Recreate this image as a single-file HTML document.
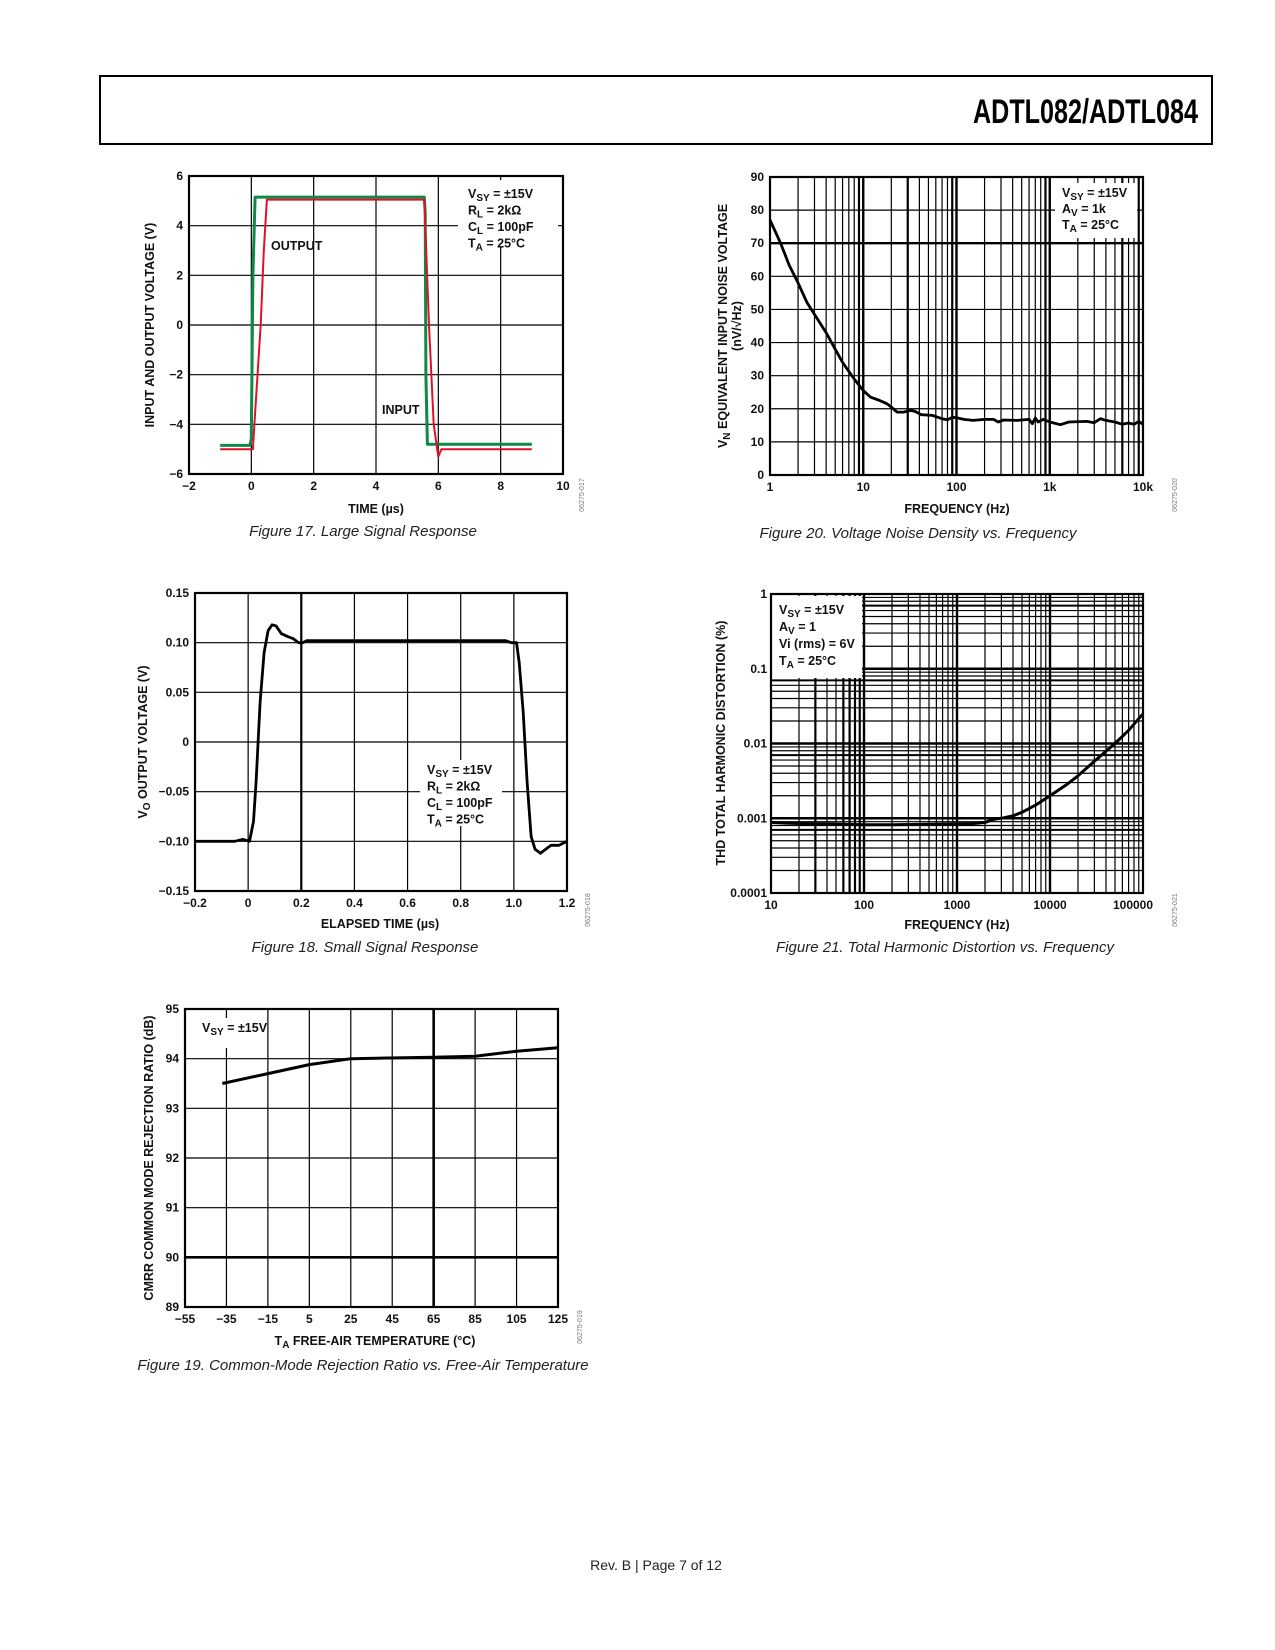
<!DOCTYPE html>
<html><head><meta charset="utf-8">
<style>
html,body{margin:0;padding:0;background:#fff;}
svg{display:block;}
text{font-family:"Liberation Sans",sans-serif;}
.t{font-size:12px;font-weight:bold;fill:#111;}
.at{font-size:12.5px;font-weight:bold;fill:#111;}
.cap{font-size:15px;font-style:italic;fill:#222;}
.lg{font-size:12.5px;font-weight:bold;fill:#111;}
.code{font-size:7px;fill:#777;}
</style></head><body>
<svg id="s" width="1275" height="1650" viewBox="0 0 1275 1650" xmlns="http://www.w3.org/2000/svg">
<rect x="0" y="0" width="1275" height="1650" fill="#fff"/>
<rect x="100" y="76" width="1112" height="68" fill="none" stroke="#000" stroke-width="2"/>
<text x="973" y="123" textLength="225" lengthAdjust="spacingAndGlyphs" style="font-family:'Liberation Sans Narrow','Liberation Sans',sans-serif;font-size:34px;font-weight:bold;">ADTL082/ADTL084</text>
<text x="656" y="1570" text-anchor="middle" style="font-size:14px;fill:#222">Rev. B | Page 7 of 12</text>
<g id="g"></g>
</svg>
<script>
var out='';
function L(x1,y1,x2,y2,w,c){out+='<line x1="'+x1+'" y1="'+y1+'" x2="'+x2+'" y2="'+y2+'" stroke="'+(c||'#000')+'" stroke-width="'+w+'"/>';}
function T(x,y,s,cls,anc,extra){out+='<text x="'+x+'" y="'+y+'" class="'+cls+'" text-anchor="'+(anc||'start')+'" '+(extra||'')+'>'+s+'</text>';}
function P(pts,w,c){out+='<polyline fill="none" stroke="'+c+'" stroke-width="'+w+'" stroke-linejoin="round" points="'+pts.map(function(p){return p[0].toFixed(1)+','+p[1].toFixed(1)}).join(' ')+'"/>';}
function R(x,y,w,h){out+='<rect x="'+x+'" y="'+y+'" width="'+w+'" height="'+h+'" fill="#fff"/>';}
function box(x0,y0,x1,y1){out+='<rect x="'+x0+'" y="'+y0+'" width="'+(x1-x0)+'" height="'+(y1-y0)+'" fill="none" stroke="#000" stroke-width="2.2"/>';}
function lin(a,b,c,d){return function(v){return c+(v-a)/(b-a)*(d-c);};}
function lg(a,b,c,d){return function(v){return c+(Math.log10(v)-Math.log10(a))/(Math.log10(b)-Math.log10(a))*(d-c);};}
var SUB=function(m,s){return m+'<tspan dy="3" font-size="10">'+s+'</tspan><tspan dy="-3"> </tspan>';};
function legend(x,y,lines,dy){for(var i=0;i<lines.length;i++)T(x,y+i*dy,lines[i],'lg');}

// Fig 17
(function(){var X=lin(-2,10,189,563),Y=lin(6,-6,176,474);
for(var v=0;v<=8;v+=2)L(X(v),176,X(v),474,1.2);
for(var v=-4;v<=4;v+=2)L(189,Y(v),563,Y(v),1.2);
R(458,180,100,66);
var g=[[-1,-4.85],[-0.05,-4.85],[0.0,-4.6],[0.05,2],[0.12,5.15],[5.55,5.15],[5.58,4.5],[5.6,-2],[5.65,-4.8],[6.2,-4.8],[9,-4.8]];
var r=[[-1,-5.0],[0.05,-5.0],[0.1,-4],[0.3,0],[0.4,3],[0.5,5.05],[5.55,5.05],[5.7,0],[5.85,-4],[6.0,-5.3],[6.1,-5.0],[9,-5.0]];
P(g.map(function(p){return[X(p[0]),Y(p[1])]}),3,'#0e8a44');
P(r.map(function(p){return[X(p[0]),Y(p[1])]}),2,'#e0102a');
box(189,176,563,474);
for(var v=-2;v<=10;v+=2)T(X(v),490,(v<0?'−':'')+Math.abs(v),'t','middle');
for(var v=-6;v<=6;v+=2)T(183,Y(v)+4,(v<0?'−':'')+Math.abs(v),'t','end');
legend(468,198,[SUB('V','SY')+'= ±15V',SUB('R','L')+'= 2kΩ',SUB('C','L')+'= 100pF',SUB('T','A')+'= 25°C'],16.5);
T(271,250,'OUTPUT','lg');T(382,414,'INPUT','lg');
T(376,513,'TIME (µs)','at','middle');
T(0,0,'INPUT AND OUTPUT VOLTAGE (V)','at','middle','transform="translate(154,325) rotate(-90)"');
T(0,0,'Figure 17. Large Signal Response','cap','middle','transform="translate(363,536)"');
T(0,0,'06275-017','code','middle','transform="translate(584,495) rotate(-90)"');
})();

// Fig 18
(function(){var X=lin(-0.2,1.2,195,567),Y=lin(0.15,-0.15,593,891);
for(var i=0;i<=6;i++){var v=-0.2+i*0.2;L(X(v),593,X(v),891,Math.abs(v-0.2)<1e-6?2.2:1.2);}
for(var i=1;i<6;i++){var v=0.15-i*0.05;L(195,Y(v),567,Y(v),1.2);}
R(420,760,82,66);
var c=[[-0.2,-0.1],[-0.05,-0.1],[-0.02,-0.098],[0.005,-0.1],[0.02,-0.08],[0.03,-0.04],[0.045,0.04],[0.06,0.09],[0.075,0.112],[0.09,0.118],[0.105,0.117],[0.125,0.109],[0.15,0.106],[0.17,0.104],[0.19,0.1],[0.205,0.1],[0.22,0.102],[0.97,0.102],[0.99,0.1],[1.01,0.1],[1.02,0.08],[1.035,0.03],[1.05,-0.04],[1.065,-0.095],[1.08,-0.108],[1.1,-0.112],[1.12,-0.108],[1.14,-0.104],[1.17,-0.104],[1.2,-0.1]];
P(c.map(function(p){return[X(p[0]),Y(p[1])]}),2.8,'#000');
box(195,593,567,891);
var xl=['−0.2','0','0.2','0.4','0.6','0.8','1.0','1.2'];
for(var i=0;i<xl.length;i++)T(X(-0.2+i*0.2),907,xl[i],'t','middle');
var yl=['0.15','0.10','0.05','0','−0.05','−0.10','−0.15'];
for(var i=0;i<yl.length;i++)T(189,Y(0.15-i*0.05)+4,yl[i],'t','end');
legend(427,774,[SUB('V','SY')+'= ±15V',SUB('R','L')+'= 2kΩ',SUB('C','L')+'= 100pF',SUB('T','A')+'= 25°C'],16.5);
T(380,928,'ELAPSED TIME (µs)','at','middle');
T(0,0,'V<tspan dy="3" font-size="10">O</tspan><tspan dy="-3"> OUTPUT VOLTAGE (V)</tspan>','at','middle','transform="translate(147,742) rotate(-90)"');
T(0,0,'Figure 18. Small Signal Response','cap','middle','transform="translate(365,952)"');
T(0,0,'06275-018','code','middle','transform="translate(590,910) rotate(-90)"');
})();

// Fig 19
(function(){var X=lin(-55,125,185,558),Y=lin(95,89,1009,1307);
for(var v=-35;v<=105;v+=20)L(X(v),1009,X(v),1307,v==65?2.6:1.2);
for(var v=90;v<=94;v++)L(185,Y(v),558,Y(v),v==90?2.6:1.2);
R(195,1018,70,30);
var c=[[-37,93.5],[-15,93.7],[5,93.88],[25,94.0],[65,94.03],[85,94.05],[105,94.15],[125,94.22]];
P(c.map(function(p){return[X(p[0]),Y(p[1])]}),3,'#000');
box(185,1009,558,1307);
for(var v=-55;v<=125;v+=20)T(X(v),1323,(v<0?'−':'')+Math.abs(v),'t','middle');
for(var v=89;v<=95;v++)T(179,Y(v)+4,v,'t','end');
legend(202,1032,[SUB('V','SY')+'= ±15V'],16);
T(375,1345,'<tspan>T</tspan><tspan dy="3" font-size="10">A</tspan><tspan dy="-3"> FREE-AIR TEMPERATURE (°C)</tspan>','at','middle');
T(0,0,'CMRR COMMON MODE REJECTION RATIO (dB)','at','middle','transform="translate(153,1158) rotate(-90)"');
T(0,0,'Figure 19. Common-Mode Rejection Ratio vs. Free-Air Temperature','cap','middle','transform="translate(363,1370)"');
T(0,0,'06275-019','code','middle','transform="translate(582,1327) rotate(-90)"');
})();

// Fig 20
(function(){var X=lg(1,10000,770,1143),Y=lin(90,0,177,475);
for(var d=1;d<10000;d*=10)for(var k=1;k<=9;k++){var f=d*k;if(f<=1)continue;var w=(k==1)?2.4:((k==9||k==3&&d==10||k==6&&d==1000)?2.2:1.2);L(X(f),177,X(f),475,w);}
for(var v=10;v<90;v+=10)L(770,Y(v),1143,Y(v),v==70?2.4:1.2);
R(1055,183,82,55);
var c=[[1,77],[1.3,70],[1.6,63.5],[2,58],[2.5,52],[3,48.5],[4,43],[5,38],[6,34],[8,29],[10,25.5],[12,23.5],[15,22.5],[18,21.5],[20,20.5],[23,19],[27,19],[32,19.5],[36,19.2],[42,18.2],[55,18],[70,17],[80,16.7],[90,17.4],[100,17.3],[120,16.8],[150,16.5],[200,16.8],[250,16.8],[280,16],[320,16.6],[450,16.5],[600,16.8],[650,15.5],[700,17.2],[750,16],[850,16.8],[1000,16],[1300,15.2],[1600,16],[2500,16.2],[3000,15.8],[3500,17],[4000,16.5],[5000,16],[6000,15.3],[7000,15.7],[8000,15.3],[9000,16.2],[10000,15.3]];
P(c.map(function(p){return[X(p[0]),Y(p[1])]}),2.8,'#000');
box(770,177,1143,475);
var xl=[[1,'1'],[10,'10'],[100,'100'],[1000,'1k'],[10000,'10k']];
xl.forEach(function(a){T(X(a[0]),491,a[1],'t','middle');});
for(var v=0;v<=90;v+=10)T(764,Y(v)+4,v,'t','end');
legend(1062,197,[SUB('V','SY')+'= ±15V',SUB('A','V')+'= 1k',SUB('T','A')+'= 25°C'],16);
T(957,513,'FREQUENCY (Hz)','at','middle');
T(0,0,'V<tspan dy="3" font-size="10">N</tspan><tspan dy="-3"> EQUIVALENT INPUT NOISE VOLTAGE</tspan>','at','middle','transform="translate(727,326) rotate(-90)"');
T(0,0,'(nV/√Hz)','at','middle','transform="translate(741,326) rotate(-90)"');
T(0,0,'Figure 20. Voltage Noise Density vs. Frequency','cap','middle','transform="translate(918,538)"');
T(0,0,'06275-020','code','middle','transform="translate(1177,495) rotate(-90)"');
})();

// Fig 21
(function(){var X=lg(10,100000,771,1143),Y=lg(0.0001,1,893,594);
for(var d=10;d<100000;d*=10)for(var k=1;k<=9;k++){var f=d*k;if(f<=10)continue;var w=(k==1)?2.4:((k==3&&d==10)||(k>=6&&d==10)?2.2:1.2);L(X(f),594,X(f),893,w);}
for(var d=0.0001;d<0.99;d*=10)for(var k=1;k<=9;k++){var v=d*k;if(v<=0.0001*1.01)continue;var w=(k==1)?2.4:((k==7)?2:1.2);L(771,Y(v),1143,Y(v),w);}
R(772,596,90,82);
var c=[[10,0.00088],[15,0.00086],[20,0.00085],[40,0.00084],[60,0.00083],[100,0.00082],[200,0.00082],[500,0.00083],[1000,0.00084],[1500,0.00085],[2000,0.00088],[2500,0.00097],[3000,0.001],[4000,0.00108],[5000,0.0012],[7000,0.0015],[10000,0.002],[15000,0.0028],[20000,0.0037],[30000,0.0058],[50000,0.01],[70000,0.015],[100000,0.025]];
P(c.map(function(p){return[X(p[0]),Y(p[1])]}),3,'#000');
box(771,594,1143,893);
[[10,'10'],[100,'100'],[1000,'1000'],[10000,'10000'],[100000,'100000']].forEach(function(a){T(X(a[0])-(a[0]==100000?10:0),909,a[1],'t','middle');});
[[1,'1'],[0.1,'0.1'],[0.01,'0.01'],[0.001,'0.001'],[0.0001,'0.0001']].forEach(function(a){T(767,Y(a[0])+4,a[1],'t','end');});
legend(779,614,[SUB('V','SY')+'= ±15V',SUB('A','V')+'= 1',' Vi (rms) = 6V',SUB('T','A')+'= 25°C'],17);
T(957,929,'FREQUENCY (Hz)','at','middle');
T(0,0,'THD TOTAL HARMONIC DISTORTION (%)','at','middle','transform="translate(725,743) rotate(-90)"');
T(0,0,'Figure 21. Total Harmonic Distortion vs. Frequency','cap','middle','transform="translate(945,952)"');
T(0,0,'06275-021','code','middle','transform="translate(1177,910) rotate(-90)"');
})();
document.getElementById('g').innerHTML=out;
</script>
</body></html>
